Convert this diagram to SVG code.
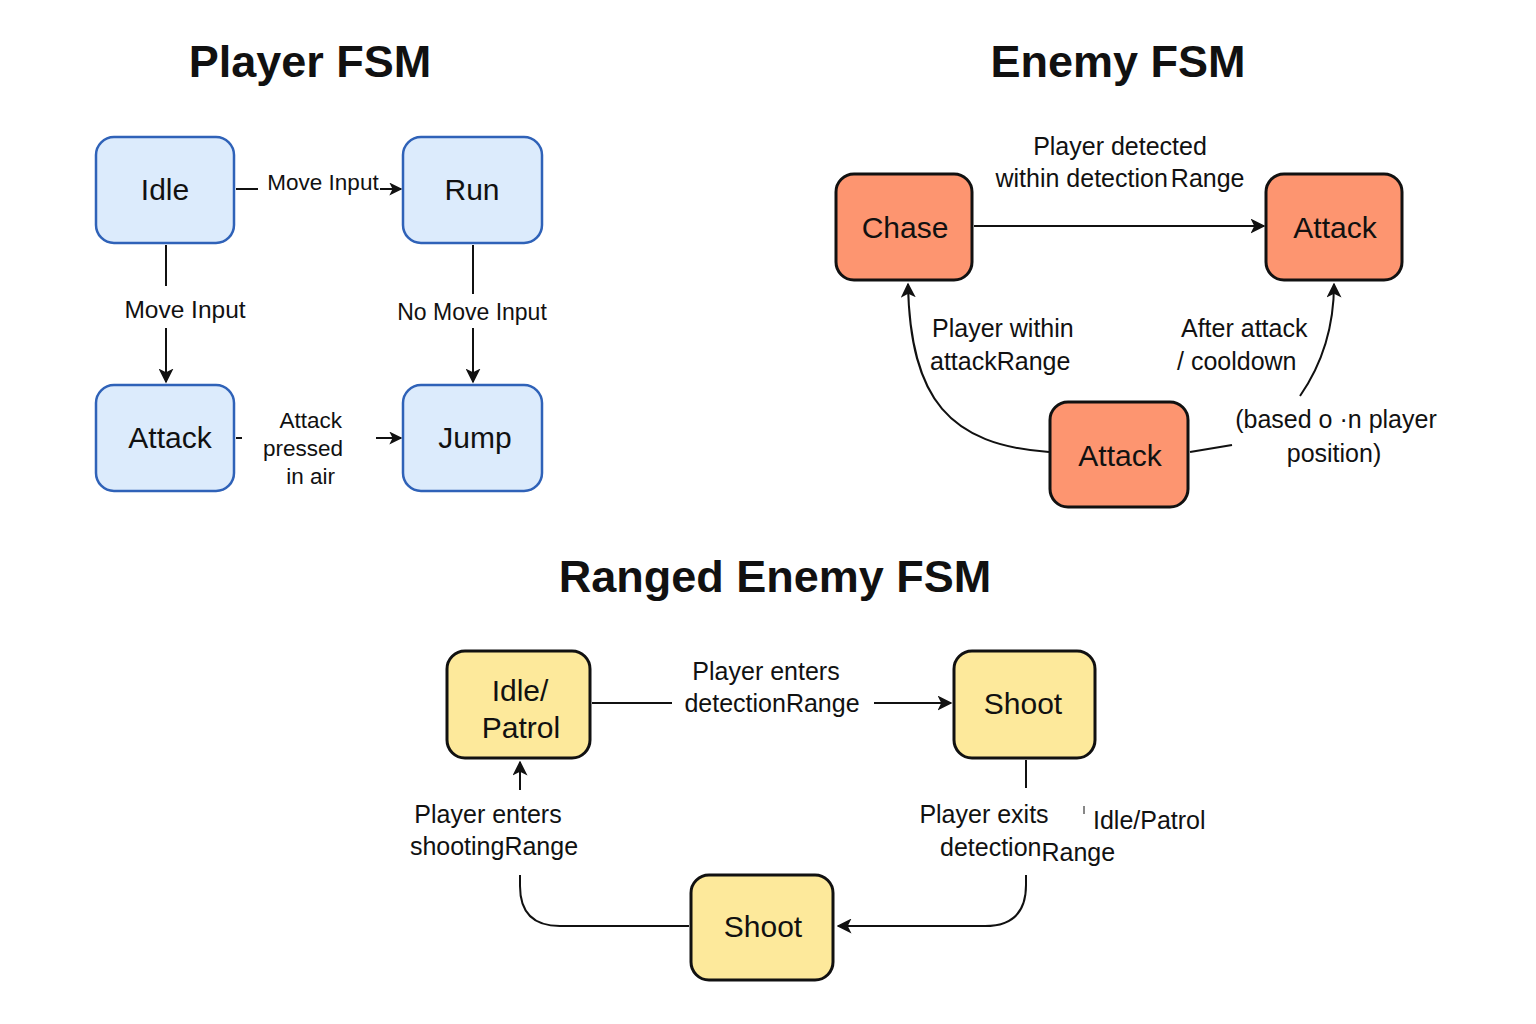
<svg xmlns="http://www.w3.org/2000/svg" width="1536" height="1024" viewBox="0 0 1536 1024">
<defs>
<marker id="ah" viewBox="0 0 10 10" refX="9" refY="5" markerWidth="13" markerHeight="13" markerUnits="userSpaceOnUse" orient="auto">
<path d="M0,0 L10,5 L0,10 L2.5,5 Z" fill="#111"/>
</marker>
<marker id="ahs" viewBox="0 0 10 10" refX="9" refY="5" markerWidth="15" markerHeight="15" markerUnits="userSpaceOnUse" orient="auto">
<path d="M0,0 L10,5 L0,10 L2.5,5 Z" fill="#111"/>
</marker>
</defs>
<style>
text{font-family:"Liberation Sans",Arial,sans-serif;fill:#111}
.title{font-size:45px;font-weight:bold;text-anchor:middle}
.nl{font-size:30px;text-anchor:middle}
.blue{fill:#dcebfc;stroke:#2f62b8;stroke-width:2.5}
.orange{fill:#fd9570;stroke:#111;stroke-width:3}
.yellow{fill:#fde99b;stroke:#111;stroke-width:3}
.c{fill:none;stroke:#111;stroke-width:2}
</style>
<rect width="1536" height="1024" fill="#fff"/>
<text class="title" x="310" y="77">Player FSM</text>
<text class="title" x="1118" y="77">Enemy FSM</text>
<text class="title" x="775" y="592">Ranged Enemy FSM</text>

<g id="connectors">
<line class="c" x1="236" y1="189" x2="258" y2="189"/>
<line class="c" x1="380" y1="189" x2="401" y2="189" marker-end="url(#ah)"/>
<line class="c" x1="166" y1="245" x2="166" y2="286"/>
<line class="c" x1="166" y1="328" x2="166" y2="382" marker-end="url(#ahs)"/>
<line class="c" x1="473" y1="245" x2="473" y2="294"/>
<line class="c" x1="473" y1="328" x2="473" y2="382" marker-end="url(#ahs)"/>
<line class="c" x1="236" y1="438" x2="242" y2="438"/>
<line class="c" x1="376" y1="438" x2="401" y2="438" marker-end="url(#ah)"/>

<line class="c" x1="974" y1="226" x2="1264" y2="226" marker-end="url(#ahs)"/>
<path class="c" d="M1049,452 C950,445 910,400 908,284" marker-end="url(#ahs)"/>
<path class="c" d="M1190,452 L1232,445"/>
<path class="c" d="M1300,396 C1325,360 1334,320 1334,284" marker-end="url(#ahs)"/>

<line class="c" x1="592" y1="703" x2="672" y2="703"/>
<line class="c" x1="874" y1="703" x2="951" y2="703" marker-end="url(#ahs)"/>
<line class="c" x1="1026" y1="760" x2="1026" y2="788"/>
<path class="c" d="M1026,875 L1026,885 Q1026,926 985,926 L838,926" marker-end="url(#ahs)"/>
<path class="c" d="M689,926 L560,926 Q520,926 520,886 L520,875"/>
<line class="c" x1="520" y1="790" x2="520" y2="762" marker-end="url(#ahs)"/>
<line x1="1084" y1="806" x2="1084" y2="814" stroke="#111" stroke-width="1"/>
</g>

<g id="labels">
<text x="323" y="190" style="font-size:22.5px;text-anchor:middle">Move Input</text>
<text x="185" y="318" style="font-size:24.5px;text-anchor:middle">Move Input</text>
<text x="472" y="320" style="font-size:23px;text-anchor:middle">No Move Input</text>
<text x="342" y="428" style="font-size:22.5px;text-anchor:end">Attack</text>
<text x="343" y="456" style="font-size:22.5px;text-anchor:end">pressed</text>
<text x="335" y="484" style="font-size:22.5px;text-anchor:end">in air</text>

<text x="1120" y="155" style="font-size:25px;text-anchor:middle">Player detected</text>
<text x="1120" y="187" style="font-size:25px;text-anchor:middle">within detection<tspan dx="3">Range</tspan></text>
<text x="932" y="337" style="font-size:25px">Player within</text>
<text x="930" y="370" style="font-size:25px">attackRange</text>
<text x="1181" y="337" style="font-size:25px">After attack</text>
<text x="1177" y="370" style="font-size:25px">/ cooldown</text>
<text x="1336" y="428" style="font-size:25px;text-anchor:middle">(based o ·n player</text>
<text x="1334" y="462" style="font-size:25px;text-anchor:middle">position)</text>

<text x="766" y="680" style="font-size:25px;text-anchor:middle">Player enters</text>
<text x="772" y="712" style="font-size:25px;text-anchor:middle">detectionRange</text>
<text x="984" y="823" style="font-size:25px;text-anchor:middle">Player exits</text>
<text x="940" y="856" style="font-size:25px">detection<tspan dy="5">Range</tspan></text>
<text x="1093" y="829" style="font-size:25px">Idle/Patrol</text>
<text x="488" y="823" style="font-size:25px;text-anchor:middle">Player enters</text>
<text x="494" y="855" style="font-size:25px;text-anchor:middle">shootingRange</text>
</g>

<g id="p-idle"><rect class="blue" x="96" y="137" width="138" height="106" rx="18"/><text class="nl" x="165" y="200">Idle</text></g>
<g id="p-run"><rect class="blue" x="403" y="137" width="139" height="106" rx="18"/><text class="nl" x="472" y="200">Run</text></g>
<g id="p-attack"><rect class="blue" x="96" y="385" width="138" height="106" rx="18"/><text class="nl" x="170" y="448">Attack</text></g>
<g id="p-jump"><rect class="blue" x="403" y="385" width="139" height="106" rx="18"/><text class="nl" x="475" y="448">Jump</text></g>

<g id="e-chase"><rect class="orange" x="836" y="174" width="136" height="106" rx="18"/><text class="nl" x="905" y="238">Chase</text></g>
<g id="e-attack"><rect class="orange" x="1266" y="174" width="136" height="106" rx="18"/><text class="nl" x="1335" y="238">Attack</text></g>
<g id="e-attack2"><rect class="orange" x="1050" y="402" width="138" height="105" rx="18"/><text class="nl" x="1120" y="466">Attack</text></g>

<g id="r-idle"><rect class="yellow" x="447" y="651" width="143" height="107" rx="18"/><text class="nl" x="520" y="701">Idle/</text><text class="nl" x="521" y="738">Patrol</text></g>
<g id="r-shoot"><rect class="yellow" x="954" y="651" width="141" height="107" rx="18"/><text class="nl" x="1023" y="714">Shoot</text></g>
<g id="r-shoot2"><rect class="yellow" x="691" y="875" width="142" height="105" rx="18"/><text class="nl" x="763" y="937">Shoot</text></g>
</svg>
